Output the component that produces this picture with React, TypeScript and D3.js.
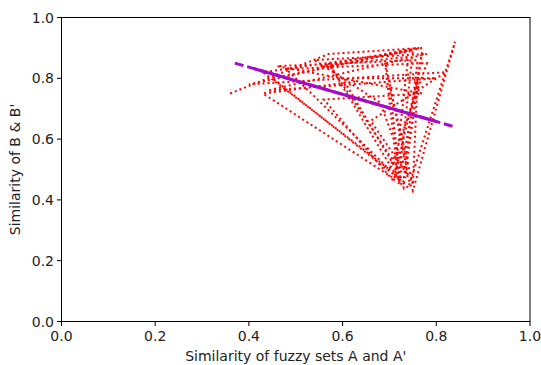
import React from "react";
import * as d3 from "d3";

const pathX = [0.36, 0.57, 0.77, 0.45, 0.72, 0.75, 0.43, 0.70, 0.78, 0.48, 0.74, 0.84, 0.75, 0.68, 0.54, 0.78, 0.44, 0.80, 0.60, 0.73, 0.76, 0.46, 0.77, 0.56, 0.71, 0.74, 0.55, 0.76, 0.40, 0.82, 0.66, 0.74, 0.69, 0.72, 0.77, 0.73, 0.57, 0.72, 0.70, 0.75, 0.76, 0.71, 0.43, 0.63];
const pathY = [0.75, 0.88, 0.90, 0.80, 0.47, 0.89, 0.82, 0.50, 0.85, 0.83, 0.44, 0.92, 0.43, 0.72, 0.86, 0.88, 0.76, 0.80, 0.80, 0.46, 0.86, 0.84, 0.75, 0.73, 0.46, 0.87, 0.84, 0.90, 0.78, 0.82, 0.66, 0.48, 0.86, 0.45, 0.89, 0.44, 0.85, 0.50, 0.78, 0.45, 0.80, 0.47, 0.75, 0.79];
const fitX = [0.37, 0.84];
const fitY = [0.85, 0.64];
const fitSolidX = [0.41, 0.80];
const ticks = [0, 0.2, 0.4, 0.6, 0.8, 1.0];

export default function App() {
  const W = 541, H = 365;
  const x = d3.scaleLinear().domain([0, 1]).range([61.5, 530]);
  const y = d3.scaleLinear().domain([0, 1]).range([321.5, 17.5]);
  const line = d3.line<[number, number]>().x(d => x(d[0])).y(d => y(d[1]));
  const pathPts = pathX.map((v, i) => [v, pathY[i]] as [number, number]);
  const fitPts = fitX.map((v, i) => [v, fitY[i]] as [number, number]);
  const slope = (fitY[1] - fitY[0]) / (fitX[1] - fitX[0]);
  const solidPts = fitSolidX.map(v => [v, fitY[0] + slope * (v - fitX[0])] as [number, number]);
  const font = "DejaVu Sans, sans-serif";
  const fs = 14;
  const purple = "#a40cc8";
  return (
    <svg width={W} height={H} style={{ position: "absolute", left: 0, top: 0, background: "#fff" }}>
      <path d={line(pathPts) || ""} fill="none" stroke="#ff0000" strokeWidth={2} strokeDasharray="2,3" />
      <path d={line(fitPts) || ""} fill="none" stroke={purple} strokeWidth={3} strokeDasharray="9,3.8" />
      <path d={line(solidPts) || ""} fill="none" stroke={purple} strokeWidth={3} />
      <rect x={x(0)} y={y(1)} width={x(1) - x(0)} height={y(0) - y(1)} fill="none" stroke="#000" strokeWidth={1} />
      {ticks.map(t => (
        <g key={"x" + t}>
          <line x1={x(t)} x2={x(t)} y1={y(0)} y2={y(0) + 4.5} stroke="#000" />
          <text x={x(t)} y={y(0) + 19} textAnchor="middle" fontFamily={font} fontSize={fs} fill="#222">{t.toFixed(1)}</text>
        </g>
      ))}
      {ticks.map(t => (
        <g key={"y" + t}>
          <line x1={x(0) - 4.5} x2={x(0)} y1={y(t)} y2={y(t)} stroke="#000" />
          <text x={x(0) - 7.5} y={y(t) + 5} textAnchor="end" fontFamily={font} fontSize={fs} fill="#222">{t.toFixed(1)}</text>
        </g>
      ))}
      <text x={(x(0) + x(1)) / 2} y={361} textAnchor="middle" fontFamily={font} fontSize={fs} fill="#222">Similarity of fuzzy sets A and A'</text>
      <text transform={`translate(20, ${(y(0) + y(1)) / 2}) rotate(-90)`} textAnchor="middle" fontFamily={font} fontSize={fs} fill="#222">Similarity of B &amp; B'</text>
    </svg>
  );
}
